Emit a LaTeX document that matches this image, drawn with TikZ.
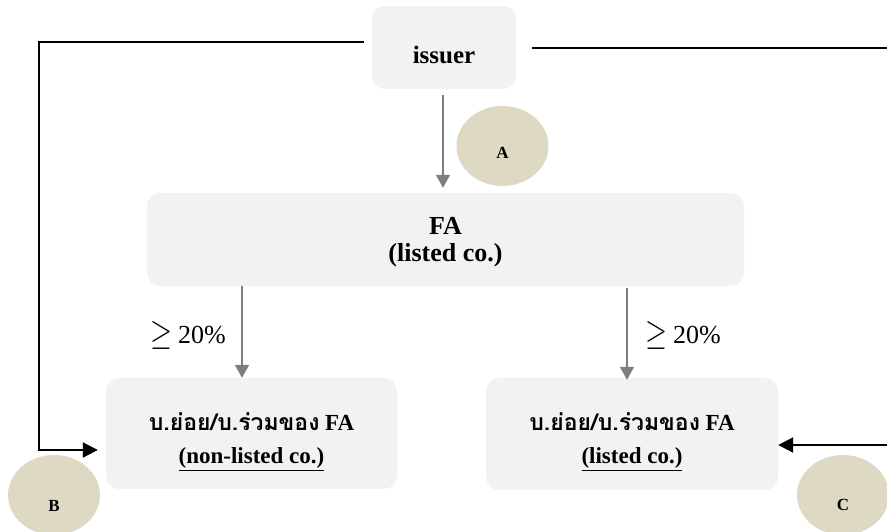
\documentclass[tikz,border=0pt]{standalone}
\usepackage{fontspec}
\usepackage{graphicx}
\setmainfont{Liberation Serif}
\newfontfamily\thaifont[Script=Thai]{Loma}
\usetikzlibrary{arrows.meta,shapes.geometric}

\definecolor{boxfill}{HTML}{F2F2F2}
\definecolor{tagfill}{HTML}{DDD9C3}
\definecolor{flowgray}{HTML}{7F7F7F}

% lower the ink of a node's text without changing the size it reports
\newcommand{\lowered}[2]{\raisebox{-#1}[\height][\depth]{#2}}
% "at least" sign followed by a percentage
\newcommand{\atleast}[1]{\raisebox{-1pt}{\resizebox{22pt}{23pt}{$\geq$}}\hspace{6pt}#1}

\begin{document}
\begin{tikzpicture}[x=1pt,y=-1pt,
  entity/.style={draw=none, fill=boxfill, rounded corners=13pt,
    inner sep=0pt, align=center, font=\bfseries},
  tag/.style={ellipse, draw=none, fill=tagfill, inner sep=0pt,
    minimum width=92pt, minimum height=80pt,
    font=\fontsize{17}{17}\selectfont\bfseries},
  share/.style={draw=flowgray, line width=1.5pt,
    -{Triangle[length=13pt,width=14pt]}},
  link/.style={draw=black, line width=2pt,
    -{Triangle[length=15pt,width=15pt]}},
  plainlink/.style={draw=black, line width=2pt},
  pct/.style={inner sep=0pt, anchor=base west,
    font=\fontsize{26}{26}\selectfont},
]
\useasboundingbox (0,0) rectangle (887,531);

% companies
\node[entity, minimum width=144pt, minimum height=83pt,
      font=\fontsize{25}{25}\selectfont\bfseries] (issuer) at (444,47.5)
  {\lowered{7pt}{issuer}};
\node[entity, minimum width=597pt, minimum height=93pt,
      font=\fontsize{26}{27}\selectfont\bfseries] (fa) at (445.5,239.5)
  {\lowered{3pt}{\begin{tabular}{@{}c@{}}FA\\[0pt](listed co.)\end{tabular}}};
\node[entity, minimum width=291pt, minimum height=111pt,
      font=\fontsize{23}{23}\selectfont\bfseries] (subn) at (251.5,433.5)
  {\lowered{8pt}{\begin{tabular}{@{}c@{}}{\thaifont\fontsize{23}{23}\selectfont บ.ย่อย/บ.ร่วมของ} FA\\[10pt]\underline{(non-listed co.)}\end{tabular}}};
\node[entity, minimum width=292pt, minimum height=112pt,
      font=\fontsize{23}{23}\selectfont\bfseries] (subl) at (632,434)
  {\lowered{8pt}{\begin{tabular}{@{}c@{}}{\thaifont\fontsize{23}{23}\selectfont บ.ย่อย/บ.ร่วมของ} FA\\[10pt]\underline{(listed co.)}\end{tabular}}};

% case markers
\node[tag] (tagA) at (502.5,146) {\lowered{7pt}{A}};
\node[tag] (tagB) at (54,495) {\lowered{11pt}{B}};
\node[tag] (tagC) at (843,495) {\lowered{10pt}{C}};

% shareholding labels
\node[pct] (pctl) at (150,343) {\atleast{20\%}};
\node[pct] (pctr) at (645,343) {\atleast{20\%}};

% vertical lines of the holding chain
\coordinate (lx) at (242,0);
\coordinate (rx) at (627,0);
\coordinate (ax) at (443,0);
\draw[share, shorten <=6pt, shorten >=5pt] (issuer.south -| ax) -- (fa.north -| ax);
\draw[share] (fa.south -| lx) -- (subn.north -| lx);
\draw[share, shorten <=2pt, shorten >=-2pt] (fa.south -| rx) -- (subl.north -| rx);

% outer routes of the issuer
\coordinate (lcorner) at (39,450);
\coordinate (rtop) at (887,48);
\coordinate (rbottom) at (887,445);
\draw[link] ([xshift=-8pt,yshift=5.5pt]issuer.west) -| (lcorner)
  -- ([xshift=-8pt,yshift=-16.5pt]subn.west);
\draw[plainlink] ([xshift=16pt,yshift=-0.5pt]issuer.east) -- (rtop);
\draw[link] (rbottom) -- ([yshift=-11pt]subl.east);
\end{tikzpicture}
\end{document}
